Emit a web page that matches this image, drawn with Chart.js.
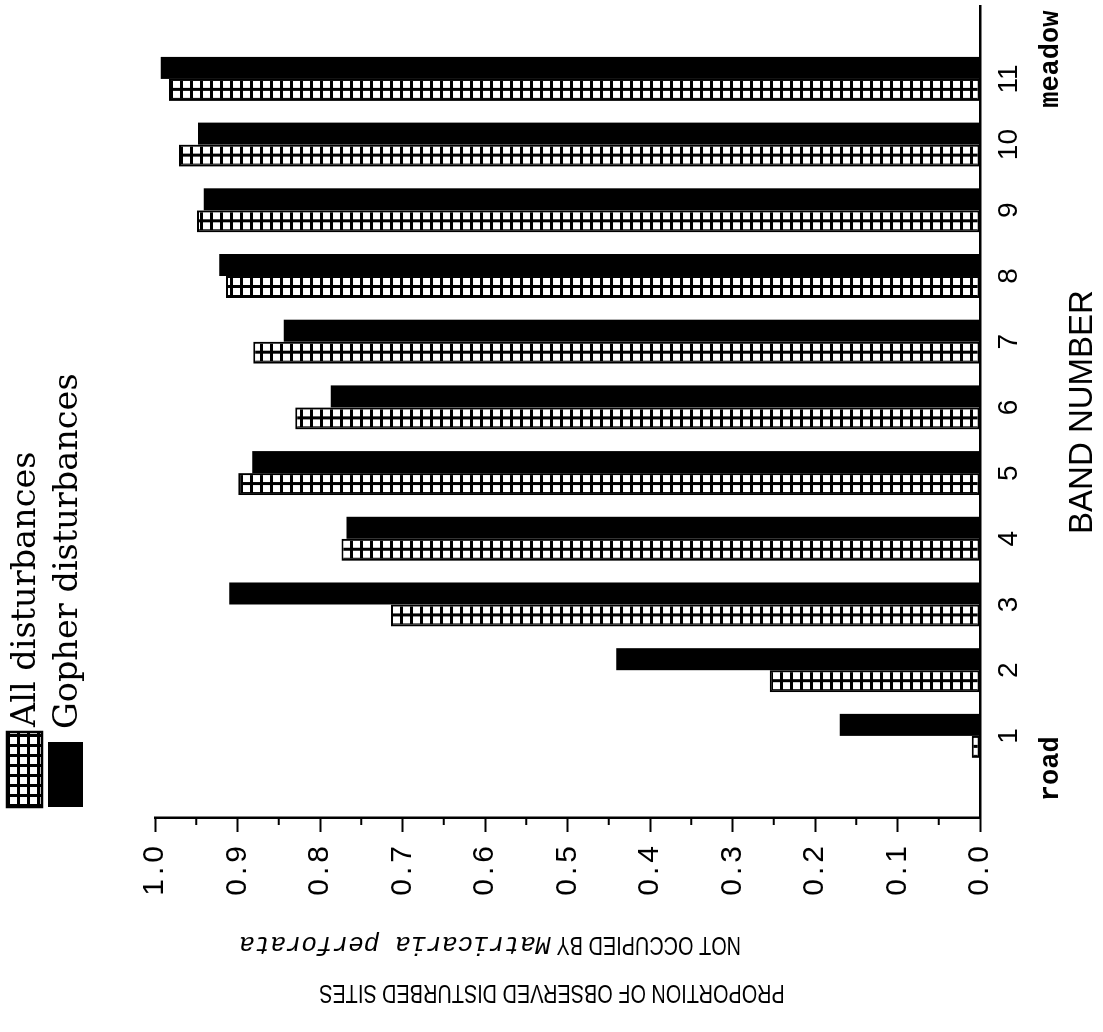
<!DOCTYPE html>
<html><head><meta charset="utf-8">
<script src="https://cdn.jsdelivr.net/npm/chart.js@4/dist/chart.umd.min.js"></script>
<style>
html,body{margin:0;padding:0;background:#fff;overflow:hidden;width:1103px;height:1032px;}
#wrap{position:absolute;left:0;top:0;width:1032px;height:1103px;transform-origin:0 0;transform:translateY(1032px) rotate(-90deg);background:#fff;}
canvas{display:block;}
</style></head><body>
<div id="wrap"><canvas id="c" width="1032" height="1103"></canvas></div>
<script>
// ---- data ----
const categories = [1, 2, 3, 4, 5, 6, 7, 8, 9, 10, 11];
const allDisturbances    = [0.010, 0.255, 0.714, 0.774, 0.899, 0.830, 0.881, 0.914, 0.949, 0.971, 0.983];
const gopherDisturbances = [0.170, 0.441, 0.910, 0.768, 0.882, 0.787, 0.844, 0.922, 0.941, 0.948, 0.993];
const seriesNames = ['All disturbances', 'Gopher disturbances'];
const valueTicks = [0.0, 0.1, 0.2, 0.3, 0.4, 0.5, 0.6, 0.7, 0.8, 0.9, 1.0];
const minorTicks = [0.05, 0.15, 0.25, 0.35, 0.45, 0.55, 0.65, 0.75, 0.85, 0.95];
const endLabels = ['road', 'meadow'];
const xTitle = 'BAND NUMBER';
const yTitleLine1 = 'PROPORTION OF OBSERVED DISTURBED SITES';
const yTitleLine2a = 'NOT OCCUPIED BY ';
const yTitleLine2b = 'Matricaria perforata';

// ---- styling ----
const CAT_PCT = 0.67;
const canvas = document.getElementById('c');
const ctx0 = canvas.getContext('2d');
const tile = (() => {
  const t = document.createElement('canvas'); t.width = 10; t.height = 10;
  const g = t.getContext('2d');
  g.fillStyle = '#fff'; g.fillRect(0, 0, 10, 10);
  g.fillStyle = '#000'; g.fillRect(0, 0, 3, 10); g.fillRect(0, 0, 10, 3);
  return t;
})();
function hatchAt(x, y) {
  const p = ctx0.createPattern(tile, 'repeat');
  try { p.setTransform(new DOMMatrix([1, 0, 0, 1, x, y])); } catch (e) {}
  return p;
}
function hatchBg(c) {
  try {
    const s = c.chart.scales && c.chart.scales.x;
    if (c.type !== 'data' || !s) return hatchAt(0, 0);
    const unit = s.getPixelForValue(2) - s.getPixelForValue(1);
    if (!isFinite(unit)) return hatchAt(0, 0);
    const bw = unit * CAT_PCT / 2;
    return hatchAt(s.getPixelForValue(categories[c.dataIndex]) - bw, 0);
  } catch (e) { return hatchAt(0, 0); }
}

const TITLE_SX = 0.765;
const deco = {
  id: 'deco',
  afterLayout(chart) {
    const ys = chart.scales.y;
    if (!ys._wrapped) {
      const orig = ys.drawLabels;
      ys.drawLabels = function (a) {
        const g = this.ctx; g.save(); g.letterSpacing = '4px'; orig.call(this, a); g.restore();
      };
      ys._wrapped = true;
    }
  },
  afterDraw(chart) {
    const g = chart.ctx, xs = chart.scales.x, ys = chart.scales.y;
    g.save();
    // minor ticks
    g.strokeStyle = '#000'; g.lineWidth = 2;
    minorTicks.forEach(v => {
      const p = ys.getPixelForValue(v);
      g.beginPath(); g.moveTo(ys.right - 7, p); g.lineTo(ys.right, p); g.stroke();
    });
    // road / meadow
    g.fillStyle = '#000';
    g.font = 'bold 27px "Liberation Mono", monospace';
    g.textAlign = 'center'; g.textBaseline = 'alphabetic';
    g.fillText(endLabels[0], xs.getPixelForValue(0.5), 1058);
    g.fillText(endLabels[1], xs.getPixelForValue(11.3), 1058);
    // legend
    g.fillStyle = hatchAt(225, 7); g.fillRect(225, 7, 75, 35);
    g.lineWidth = 2.5; g.strokeStyle = '#000'; g.strokeRect(225, 7, 75, 35);
    g.fillStyle = '#000'; g.fillRect(225, 48, 65, 35);
    g.font = '33.5px "DejaVu Serif", serif'; g.textAlign = 'left';
    g.fillText(seriesNames[0], 305, 35);
    g.fillText(seriesNames[1], 303, 77);
    // y-axis title (two lines, rotated)
    const f1 = '26px "Liberation Sans", Arial, sans-serif';
    const f2 = 'italic 26px "Liberation Mono", monospace';
    g.save();
    g.translate(47, 552); g.rotate(-Math.PI / 2); g.scale(TITLE_SX, 1);
    g.font = f1; g.textAlign = 'center';
    g.fillText(yTitleLine1, 0, 0);
    g.restore();
    g.save();
    g.translate(95, 490); g.rotate(-Math.PI / 2);
    g.font = f1; const w1 = g.measureText(yTitleLine2a).width * TITLE_SX;
    g.font = f2; const w2 = g.measureText(yTitleLine2b).width;
    const start = -(w1 + w2) / 2;
    g.textAlign = 'left';
    g.save(); g.translate(start, 0); g.scale(TITLE_SX, 1);
    g.font = f1; g.fillText(yTitleLine2a, 0, 0);
    g.restore();
    g.font = f2; g.fillText(yTitleLine2b, start + w1, 0);
    g.restore();
    g.restore();
  }
};

new Chart(canvas, {
  type: 'bar',
  data: {
    datasets: [
      {
        label: seriesNames[0],
        data: categories.map((c, i) => ({ x: c, y: allDisturbances[i] })),
        backgroundColor: hatchBg,
        borderColor: '#000', borderWidth: 2, borderSkipped: false,
        categoryPercentage: CAT_PCT, barPercentage: 1.0
      },
      {
        label: seriesNames[1],
        data: categories.map((c, i) => ({ x: c, y: gopherDisturbances[i] })),
        backgroundColor: '#000', borderColor: '#000', borderWidth: 0,
        categoryPercentage: CAT_PCT, barPercentage: 1.0
      }
    ]
  },
  options: {
    responsive: false, animation: false, events: [], devicePixelRatio: 1,
    layout: { padding: { left: 0, top: 155, right: 6, bottom: 0 } },
    plugins: { legend: { display: false }, tooltip: { enabled: false }, title: { display: false } },
    scales: {
      x: {
        type: 'linear', position: 'bottom', min: -0.25, max: 12.11, offset: false,
        afterBuildTicks: s => { s.ticks = categories.map(v => ({ value: v })); },
        afterFit: s => { s.height = 123; },
        ticks: {
          autoSkip: false, maxRotation: 0, minRotation: 0, padding: 12, color: '#000',
          font: { family: '"Liberation Sans", Arial, sans-serif', size: 28 },
          callback: v => String(v)
        },
        grid: { drawOnChartArea: false, drawTicks: false, color: '#000' },
        border: { display: true, color: '#000', width: 2.5 },
        title: {
          display: true, text: xTitle, color: '#000', padding: 0,
          font: { family: '"Liberation Sans", Arial, sans-serif', size: 33 }
        }
      },
      y: {
        type: 'linear', position: 'left', min: 0, max: 1,
        afterBuildTicks: s => { s.ticks = valueTicks.map(v => ({ value: v })); },
        afterFit: s => { s.width = 214; },
        ticks: {
          padding: 10, color: '#000',
          font: { family: '"Liberation Sans", Arial, sans-serif', size: 30 },
          callback: v => Number(v).toFixed(1)
        },
        grid: { drawOnChartArea: false, drawTicks: true, tickLength: 14, tickWidth: 2, tickColor: '#000' },
        border: { display: true, color: '#000', width: 2.5 }
      }
    }
  },
  plugins: [deco]
});
</script>
</body></html>
